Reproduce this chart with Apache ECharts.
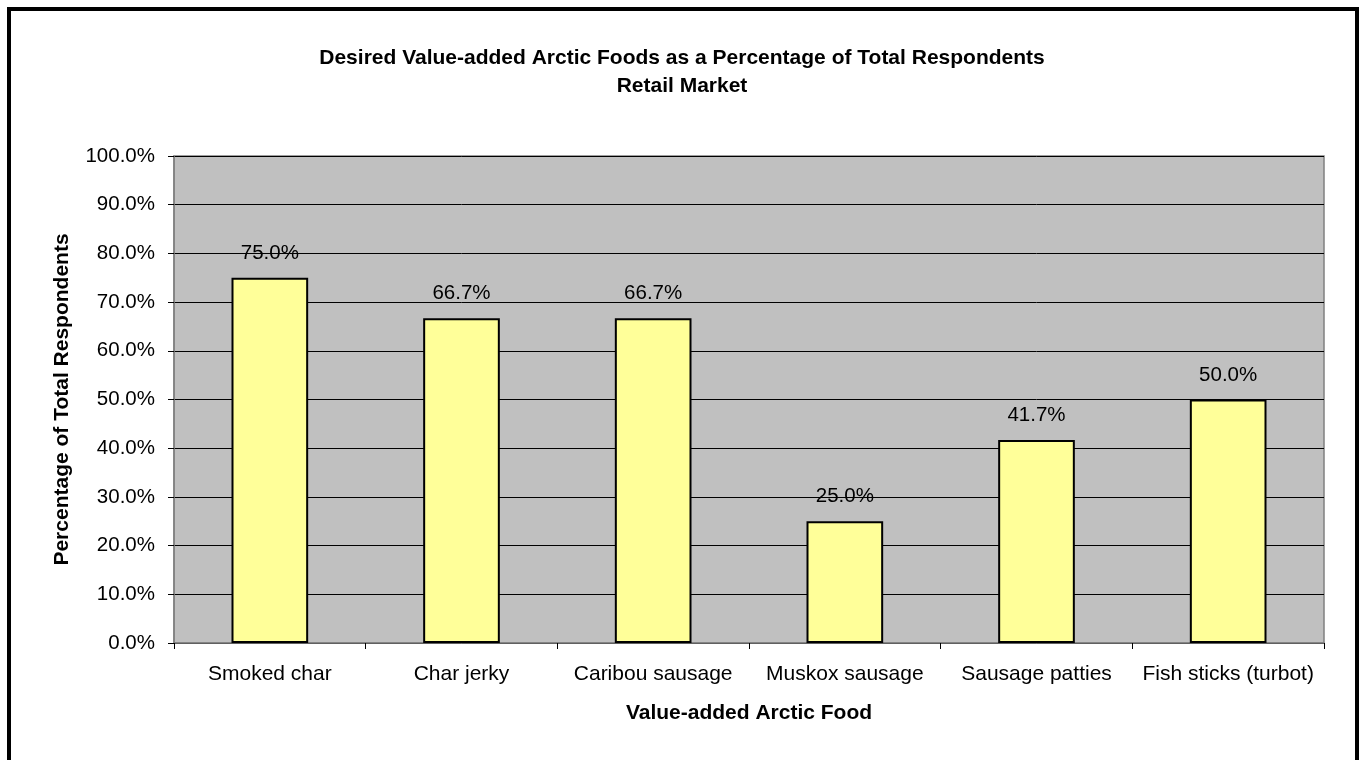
<!DOCTYPE html>
<html><head><meta charset="utf-8">
<script src="https://cdn.jsdelivr.net/npm/echarts@6/dist/echarts.min.js"></script>
<style>html,body{margin:0;padding:0;background:#fff}#c{width:1364px;height:760px}</style>
</head><body><div id="c"></div>
<script>
var categories = ['Smoked char','Char jerky','Caribou sausage','Muskox sausage','Sausage patties','Fish sticks (turbot)'];
var values = [75.0, 66.7, 66.7, 25.0, 41.7, 50.0];
var titleLines = ['Desired Value-added Arctic Foods as a Percentage of Total Respondents','Retail Market'];
var xName = 'Value-added Arctic Food';
var yName = 'Percentage of Total Respondents';

var chart = echarts.init(document.getElementById('c'), null, {renderer:'canvas'});
var font = 'Arial, "Liberation Sans", sans-serif';
chart.setOption({
  backgroundColor:'#fff',
  animation:false,
  title:{text:titleLines.join('\n'), left:'center', top:39,
    textStyle:{fontFamily:font, fontSize:21, fontWeight:'bold', color:'#000', lineHeight:28}},
  graphic:[{type:'rect', shape:{x:9,y:9,width:1348,height:800}, style:{fill:'none', stroke:'#000', lineWidth:4}, silent:true}],
  grid:{left:174, right:40, top:156, bottom:117, show:true, backgroundColor:'#C0C0C0', borderColor:'#808080', borderWidth:1.5},
  xAxis:{type:'category', data:categories,
    name:xName, nameLocation:'middle', nameGap:60,
    nameTextStyle:{fontFamily:font, fontSize:21, fontWeight:'bold', color:'#000'},
    axisLine:{show:true, lineStyle:{color:'#808080', width:1.5}},
    axisTick:{show:true, length:6, interval:0, lineStyle:{color:'#000'}},
    axisLabel:{fontFamily:font, fontSize:21, color:'#000', margin:21, interval:0, hideOverlap:false}},
  yAxis:{type:'value', min:0, max:100, interval:10,
    name:yName, nameLocation:'middle', nameGap:101,
    nameTextStyle:{fontFamily:font, fontSize:21, fontWeight:'bold', color:'#000'},
    axisLine:{show:true, lineStyle:{color:'#808080', width:1.5}},
    axisTick:{show:true, length:6, lineStyle:{color:'#000'}},
    splitLine:{show:true, lineStyle:{color:'#000', width:1}},
    axisLabel:{fontFamily:font, fontSize:20.5, color:'#000', margin:19,
      formatter:function(v){return v.toFixed(1)+'%';}}},
  series:[{type:'bar', data:values, barWidth:'40%',
    itemStyle:{color:'#FFFF99', borderColor:'#000', borderWidth:2},
    label:{show:true, position:'top', distance:14, fontFamily:font, fontSize:20.5, color:'#000',
      formatter:function(p){return p.value.toFixed(1)+'%';}}}]
});
</script></body></html>
